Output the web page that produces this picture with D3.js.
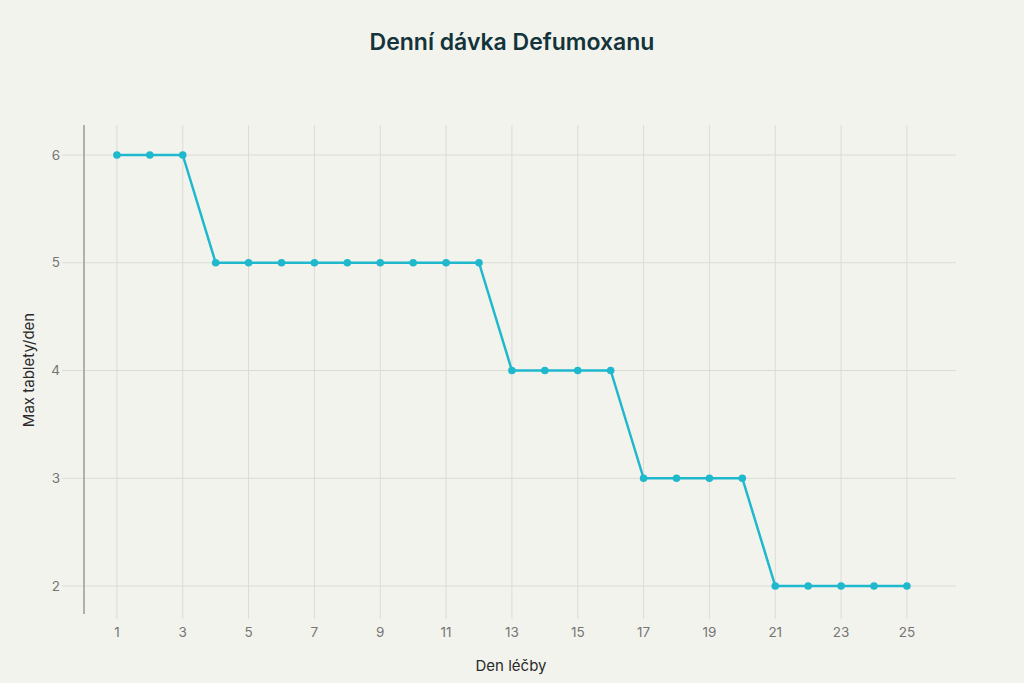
<!DOCTYPE html>
<html><head><meta charset="utf-8">
<script src="https://cdn.jsdelivr.net/npm/d3@7/dist/d3.min.js"></script>
<style>
html,body{margin:0;padding:0;background:#f3f3ee;}
svg{display:block;font-family:Inter,"Noto Sans",sans-serif;}
</style></head><body>
<svg id="c" width="1024" height="683"></svg>
<script>
const days = [1,2,3,4,5,6,7,8,9,10,11,12,13,14,15,16,17,18,19,20,21,22,23,24,25];
const doses = [6,6,6,5,5,5,5,5,5,5,5,5,4,4,4,4,3,3,3,3,2,2,2,2,2];
const xTicks = [1,3,5,7,9,11,13,15,17,19,21,23,25];
const yTicks = [2,3,4,5,6];
const title = "Denní dávka Defumoxanu";
const xTitle = "Den léčby";
const yTitle = "Max tablety/den";

const svg = d3.select("#c");
const x = d3.scaleLinear().domain([0, 24*(956-84)/790]).range([84, 956]);
const y = d3.scaleLinear().domain([2,6]).range([586,155]);
const gridTop = 125, gridBottom = 619, gridLeft = 62, gridRight = 956;

svg.append("rect").attr("width",1024).attr("height",683).attr("fill","#f3f3ee");

// horizontal grid
svg.append("g").selectAll("line").data(yTicks).join("line")
  .attr("x1",gridLeft).attr("x2",gridRight)
  .attr("y1",d=>y(d)).attr("y2",d=>y(d))
  .attr("stroke","#dcdcd6").attr("stroke-width",1);
// vertical grid
svg.append("g").selectAll("line").data(xTicks).join("line")
  .attr("x1",d=>x(d)).attr("x2",d=>x(d))
  .attr("y1",gridTop).attr("y2",gridBottom)
  .attr("stroke","#dcdcd6").attr("stroke-width",1);

// y axis line
svg.append("line").attr("x1",x(0)).attr("x2",x(0)).attr("y1",125).attr("y2",614)
  .attr("stroke","#9a9a96").attr("stroke-width",1.5);

// tick labels
svg.append("g").selectAll("text").data(yTicks).join("text")
  .attr("x",60).attr("y",d=>y(d)).attr("dy","0.35em").attr("text-anchor","end")
  .attr("font-size",13.5).attr("fill","#757575").text(d=>d);
svg.append("g").selectAll("text").data(xTicks).join("text")
  .attr("x",d=>x(d)).attr("y",632).attr("dy","0.35em").attr("text-anchor","middle")
  .attr("font-size",13.5).attr("fill","#757575").text(d=>d);

// line
const line = d3.line().x((d,i)=>x(days[i])).y(d=>y(d));
svg.append("path").datum(doses).attr("d",line).attr("fill","none")
  .attr("stroke","#1fb8cd").attr("stroke-width",2.5).attr("stroke-linejoin","round");
svg.append("g").selectAll("circle").data(doses).join("circle")
  .attr("cx",(d,i)=>x(days[i])).attr("cy",d=>y(d)).attr("r",3.8).attr("fill","#1fb8cd");

// titles
svg.append("text").attr("x",512).attr("y",50).attr("text-anchor","middle")
  .attr("font-size",23).attr("font-weight",600).attr("fill","#13343b").text(title);
svg.append("text").attr("x",511).attr("y",671).attr("text-anchor","middle")
  .attr("font-size",15).attr("fill","#2a2a2a").text(xTitle);
svg.append("text").attr("transform","translate(34,370) rotate(-90)").attr("text-anchor","middle")
  .attr("font-size",15).attr("fill","#2a2a2a").text(yTitle);
</script>
</body></html>
